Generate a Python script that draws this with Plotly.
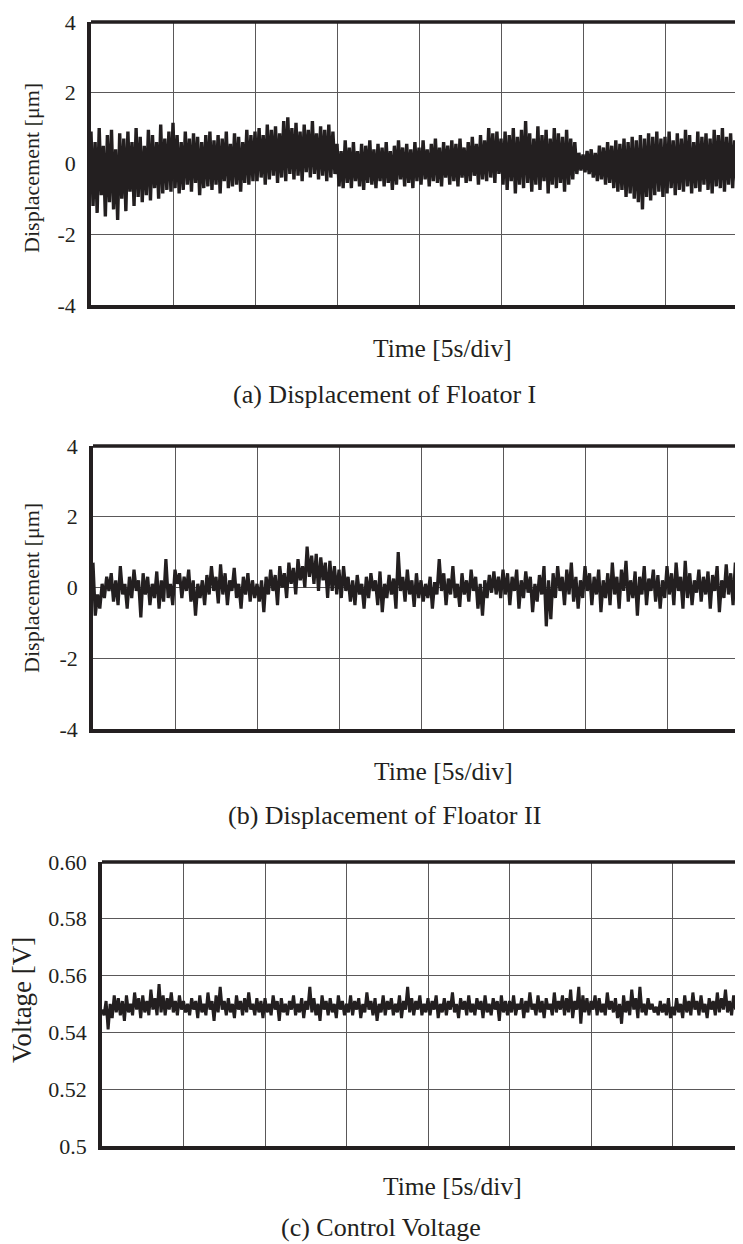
import numpy as np
import plotly.graph_objects as go

# ---------------- data ----------------
SAMPLES_PER_DIV = 40          # panel (a), (c)
SAMPLES_PER_DIV_B = 36        # panel (b)
SEC_PER_DIV = 5.0

# (a) Displacement of Floator I [um]
disp_floator1 = [
    0.9, -1.2, 0.6, -1.4, 1.0, -0.9, 0.5, -1.5, 0.8, -1.1, 0.95, -1.3, 0.4, -1.6, 0.85, -1.0, 0.7, -1.35, 0.9, -0.8,
    0.6, -1.2, 1.0, -0.95, 0.75, -1.1, 0.5, -0.9, 0.95, -1.05, 0.8, -0.7, 0.6, -1.0, 1.1, -0.85, 0.7, -0.75, 0.9, -0.8,
    1.15, -0.7, 0.8, -0.85, 0.6, -0.75, 0.9, -0.6, 0.7, -0.8, 0.85, -0.55, 0.75, -0.9, 0.6, -0.7, 0.8, -0.65, 0.9, -0.75,
    0.65, -0.6, 0.8, -0.85, 0.7, -0.5, 0.9, -0.7, 0.55, -0.65, 0.85, -0.6, 0.75, -0.8, 0.6, -0.55, 0.95, -0.6, 0.8, -0.5,
    0.9, -0.5, 1.0, -0.4, 0.8, -0.6, 1.1, -0.45, 0.95, -0.35, 1.05, -0.55, 0.85, -0.4, 1.2, -0.5, 1.3, -0.3, 1.0, -0.45,
    1.15, -0.35, 0.9, -0.5, 1.1, -0.25, 0.95, -0.4, 1.2, -0.3, 0.85, -0.45, 1.05, -0.35, 0.95, -0.5, 1.1, -0.4, 0.9, -0.3,
    0.55, -0.65, 0.35, -0.7, 0.65, -0.55, 0.45, -0.7, 0.6, -0.5, 0.35, -0.65, 0.55, -0.75, 0.5, -0.55, 0.65, -0.6, 0.4, -0.7,
    0.55, -0.5, 0.45, -0.65, 0.6, -0.55, 0.35, -0.75, 0.5, -0.6, 0.65, -0.45, 0.45, -0.65, 0.55, -0.55, 0.4, -0.7, 0.6, -0.5,
    0.45, -0.6, 0.65, -0.45, 0.4, -0.65, 0.55, -0.5, 0.7, -0.55, 0.45, -0.65, 0.6, -0.4, 0.5, -0.6, 0.65, -0.5, 0.55, -0.65,
    0.7, -0.4, 0.45, -0.55, 0.6, -0.5, 0.75, -0.35, 0.55, -0.6, 0.8, -0.45, 0.65, -0.5, 1.0, -0.4, 0.85, -0.55, 0.9, -0.3,
    0.7, -0.6, 0.9, -0.75, 0.8, -0.5, 1.0, -0.85, 0.75, -0.6, 0.95, -0.7, 1.2, -0.55, 0.85, -0.8, 0.7, -0.6, 1.05, -0.75,
    0.8, -0.5, 0.95, -0.85, 0.7, -0.6, 1.0, -0.7, 0.85, -0.55, 0.75, -0.8, 0.95, -0.6, 0.7, -0.45, 0.6, -0.3, 0.3, -0.2,
    0.25, -0.25, 0.35, -0.3, 0.4, -0.4, 0.3, -0.5, 0.5, -0.45, 0.45, -0.6, 0.6, -0.55, 0.5, -0.7, 0.65, -0.8, 0.55,
    -0.75, 0.7, -0.95, 0.6, -0.85, 0.75, -1.0, 0.65, -1.1, 0.8, -1.3, 0.7, -0.95, 0.85, -1.05, 0.75, -0.9, 0.9, -0.8, 0.7, -0.95,
    0.75, -0.85, 0.9, -0.7, 0.65, -0.9, 0.85, -0.75, 0.7, -0.8, 0.95, -0.65, 0.8, -0.85, 0.6, -0.7, 0.9, -0.8, 0.75, -0.6,
    0.85, -0.75, 0.7, -0.85, 0.95, -0.65, 0.8, -0.7, 1.0, -0.8, 0.75, -0.6, 0.85, -0.7, 0.65, -0.55, 0.8, -0.6, 0.7, -0.5,
]

# (b) Displacement of Floator II [um]
disp_floator2 = [
    0.7, -0.8, -0.2, -0.6, 0.1, -0.3, 0.3, -0.1, 0.4, -0.4, 0.2, -0.5, 0.6, -0.2, 0.1, -0.6, 0.3, -0.3, 0.5, -0.1,
    0.2, -0.85, 0.4, -0.2, 0.3, -0.5, 0.1, -0.3, 0.45, -0.6, 0.2, -0.4, 0.8, -0.3, 0.1, -0.5,
    0.5, 0.1, 0.4, -0.3, 0.3, -0.1, 0.5, -0.4, 0.2, -0.8, 0.1, -0.3, 0.2, -0.5, 0.35, -0.2, 0.6, -0.1, 0.3, -0.45,
    0.65, -0.2, 0.4, -0.5, 0.2, -0.1, 0.55, -0.3, 0.1, -0.6, 0.3, -0.2, 0.4, -0.4, 0.2, -0.3,
    0.1, -0.4, 0.2, -0.7, 0.3, -0.2, 0.5, -0.1, 0.35, -0.5, 0.6, 0.0, 0.4, -0.3, 0.7, 0.1, 0.55, -0.2, 0.8, 0.2,
    0.6, 0.0, 1.15, 0.3, 0.9, 0.1, 0.95, -0.1, 0.85, 0.2, 0.7, -0.3, 0.75, -0.1, 0.6, -0.2,
    0.5, -0.3, 0.6, -0.1, 0.3, -0.4, 0.2, -0.5, 0.35, -0.2, 0.1, -0.6, 0.3, -0.3, 0.4, -0.1, 0.2, -0.5, 0.45, -0.7,
    0.1, -0.3, 0.35, -0.2, 0.25, -0.6, 1.0, -0.1, 0.3, -0.4, 0.5, -0.2, 0.2, -0.55, 0.4, -0.3,
    0.2, -0.4, 0.1, -0.3, 0.3, -0.6, 0.15, -0.2, 0.8, -0.1, 0.4, -0.5, 0.25, -0.2, 0.6, -0.3, 0.1, -0.55, 0.4, -0.2,
    0.2, -0.4, 0.5, -0.1, 0.3, -0.6, 0.1, -0.8, 0.2, -0.3, 0.35, -0.15, 0.45, -0.2, 0.3, -0.3,
    0.5, -0.2, 0.4, -0.5, 0.3, -0.1, 0.5, -0.6, 0.2, -0.3, 0.45, -0.15, 0.3, -0.7, 0.1, -0.4, 0.35, -0.2, 0.6, -1.1,
    0.2, -0.9, 0.4, -0.3, 0.6, -0.1, 0.3, -0.5, 0.5, -0.2, 0.7, -0.4, 0.3, -0.6, 0.2, -0.3,
    0.6, -0.1, 0.4, -0.5, 0.3, -0.2, 0.5, -0.7, 0.2, -0.3, 0.4, -0.5, 0.7, -0.2, 0.3, -0.6, 0.5, -0.1, 0.75, -0.4,
    0.2, -0.3, 0.45, -0.8, 0.3, -0.2, 0.6, -0.5, 0.25, -0.1, 0.5, -0.4, 0.35, -0.6, 0.2, -0.3,
    0.6, -0.2, 0.4, -0.5, 0.7, -0.1, 0.3, -0.6, 0.75, -0.3, 0.4, -0.5, 0.2, -0.15, 0.5, -0.4, 0.3, -0.2, 0.45, -0.6,
    0.35, -0.1, 0.6, -0.7, 0.2, -0.3, 0.65, -0.2, 0.4, -0.5, 0.7, -0.1, 0.3, -0.4, 0.5, -0.2,
]

# (c) Control Voltage [V]
control_voltage = [
    0.548, 0.546, 0.551, 0.541, 0.550, 0.545, 0.553, 0.547, 0.552, 0.546, 0.551, 0.544, 0.553, 0.547, 0.550, 0.546, 0.554, 0.548, 0.552, 0.545,
    0.553, 0.547, 0.551, 0.546, 0.555, 0.548, 0.552, 0.546, 0.557, 0.547, 0.553, 0.546, 0.552, 0.548, 0.554, 0.547, 0.551, 0.546, 0.553, 0.548,
    0.551, 0.547, 0.550, 0.546, 0.552, 0.548, 0.551, 0.545, 0.553, 0.547, 0.550, 0.546, 0.554, 0.548, 0.551, 0.544, 0.553, 0.547, 0.556, 0.548,
    0.551, 0.546, 0.552, 0.547, 0.550, 0.545, 0.553, 0.548, 0.551, 0.546, 0.552, 0.547, 0.554, 0.548, 0.550, 0.546, 0.552, 0.547, 0.551, 0.545,
    0.552, 0.547, 0.550, 0.546, 0.553, 0.548, 0.551, 0.544, 0.552, 0.547, 0.550, 0.546, 0.551, 0.548, 0.553, 0.546, 0.550, 0.547, 0.552, 0.545,
    0.551, 0.548, 0.556, 0.547, 0.552, 0.546, 0.550, 0.544, 0.553, 0.548, 0.551, 0.546, 0.552, 0.547, 0.550, 0.545, 0.553, 0.548, 0.551, 0.546,
    0.550, 0.547, 0.553, 0.546, 0.551, 0.548, 0.552, 0.545, 0.550, 0.547, 0.554, 0.548, 0.551, 0.546, 0.552, 0.544, 0.550, 0.547, 0.553, 0.546,
    0.551, 0.548, 0.552, 0.546, 0.550, 0.547, 0.553, 0.545, 0.551, 0.548, 0.556, 0.547, 0.552, 0.546, 0.551, 0.548, 0.553, 0.546, 0.550, 0.547,
    0.552, 0.546, 0.551, 0.548, 0.553, 0.545, 0.550, 0.547, 0.552, 0.546, 0.551, 0.548, 0.554, 0.547, 0.550, 0.545, 0.552, 0.548, 0.551, 0.546,
    0.553, 0.547, 0.550, 0.546, 0.552, 0.548, 0.551, 0.545, 0.553, 0.547, 0.550, 0.546, 0.552, 0.548, 0.551, 0.544, 0.553, 0.547, 0.551, 0.546,
    0.551, 0.547, 0.553, 0.546, 0.550, 0.548, 0.552, 0.545, 0.551, 0.547, 0.554, 0.548, 0.550, 0.546, 0.553, 0.547, 0.551, 0.545, 0.552, 0.548,
    0.550, 0.546, 0.554, 0.547, 0.551, 0.548, 0.553, 0.546, 0.552, 0.547, 0.555, 0.545, 0.551, 0.548, 0.556, 0.543, 0.553, 0.547, 0.552, 0.546,
    0.551, 0.548, 0.553, 0.546, 0.552, 0.547, 0.550, 0.546, 0.554, 0.548, 0.551, 0.547, 0.552, 0.545, 0.550, 0.543, 0.553, 0.547, 0.551, 0.546,
    0.555, 0.548, 0.552, 0.545, 0.556, 0.547, 0.550, 0.546, 0.552, 0.548, 0.550, 0.547, 0.549, 0.546, 0.551, 0.547, 0.550, 0.546, 0.552, 0.545,
    0.549, 0.546, 0.552, 0.547, 0.550, 0.545, 0.553, 0.547, 0.551, 0.546, 0.554, 0.548, 0.551, 0.546, 0.553, 0.547, 0.550, 0.545, 0.552, 0.548,
    0.551, 0.546, 0.554, 0.547, 0.552, 0.548, 0.555, 0.547, 0.551, 0.546, 0.553, 0.548, 0.552, 0.547, 0.550, 0.546, 0.553, 0.548, 0.551, 0.549,
]

disp_ticks = [-4, -2, 0, 2, 4]
disp_ticktext = ["-4", "-2", "0", "2", "4"]
volt_ticks = [0.50, 0.52, 0.54, 0.56, 0.58, 0.60]
volt_ticktext = ["0.5", "0.52", "0.54", "0.56", "0.58", "0.60"]

x_title = "Time [5s/div]"
y_title_disp = "Displacement [\u03bcm]"
y_title_volt = "Voltage [V]"
captions = ["(a) Displacement of Floator I", "(b) Displacement of Floator II", "(c) Control Voltage"]

# sampling times (uniform sampling)
t_a = np.arange(len(disp_floator1)) * (SEC_PER_DIV / SAMPLES_PER_DIV)
t_b = np.arange(len(disp_floator2)) * (SEC_PER_DIV / SAMPLES_PER_DIV_B)
t_c = np.arange(len(control_voltage)) * (SEC_PER_DIV / SAMPLES_PER_DIV)

# ---------------- layout geometry ----------------
# Measured mapping of the photographed page: picture_x = fig_x + 8,
# picture_y = 0.98 * fig_y + 20.1.  Positions below are picture pixels.
OFF_X = 8
Y_OFF, Y_SCALE = 20.1, 0.98
W = 727
H = 1249
FONT = "Liberation Serif, Times New Roman, serif"
INK = "#231f20"
GRID = "#5a5859"

def px_x(p):
    return (p - OFF_X) / W

def px_y(p):
    return 1 - ((p - Y_OFF) / Y_SCALE) / H

panels = [
    dict(left=91, top=22, bottom=305, div=82.0),
    dict(left=93, top=446, bottom=729, div=82.0),
    dict(left=102, top=862, bottom=1146, div=81.5),
]

fig = go.Figure()
series = [(t_a, disp_floator1, 3.4), (t_b, disp_floator2, 3.2), (t_c, control_voltage, 3.0)]
for i, (t, v, lw) in enumerate(series):
    sfx = "" if i == 0 else str(i + 1)
    fig.add_trace(go.Scatter(x=t, y=v, mode="lines", line=dict(color=INK, width=lw),
                             xaxis="x" + sfx, yaxis="y" + sfx, showlegend=False, hoverinfo="skip"))

for i, p in enumerate(panels):
    sfx = "" if i == 0 else str(i + 1)
    right_px = OFF_X + W
    xr_end = (right_px - p["left"]) / p["div"] * SEC_PER_DIV
    xa = dict(domain=[px_x(p["left"]), 1.0], range=[0, xr_end], anchor="y" + sfx,
              showgrid=True, gridcolor=GRID, gridwidth=1, dtick=SEC_PER_DIV, tick0=0,
              showticklabels=False, ticks="", zeroline=False,
              showline=True, linecolor=INK, linewidth=3.5)
    if i == 2:
        ya = dict(range=[0.50, 0.60], tickvals=volt_ticks, ticktext=volt_ticktext)
    else:
        ya = dict(range=[-4, 4], tickvals=disp_ticks, ticktext=disp_ticktext)
    ya.update(domain=[px_y(p["bottom"]), px_y(p["top"])], anchor="x" + sfx,
              showgrid=True, gridcolor=GRID, gridwidth=1, zeroline=False,
              showline=True, linecolor=INK, linewidth=3.5, ticks="",
              ticklabelstandoff=7,
              tickfont=dict(family=FONT, size=22, color=INK))
    fig.update_layout(**{"xaxis" + sfx: xa, "yaxis" + sfx: ya})
    fig.add_shape(type="line", xref=("x" + sfx + " domain"), yref=("y" + sfx + " domain"),
                  x0=0, x1=1, y0=1, y1=1, line=dict(color=INK, width=3.5))

ann = []
ann.append(dict(text=y_title_disp, x=px_x(32), y=px_y(168), textangle=-90, size=22))
ann.append(dict(text=y_title_disp, x=px_x(32), y=px_y(588), textangle=-90, size=22))
ann.append(dict(text=y_title_volt, x=px_x(22), y=px_y(1000), textangle=-90, size=27))
ann.append(dict(text=x_title, x=px_x(442), y=px_y(349), textangle=0, size=25.5))
ann.append(dict(text=x_title, x=px_x(443), y=px_y(772), textangle=0, size=25.5))
ann.append(dict(text=x_title, x=px_x(452), y=px_y(1187), textangle=0, size=25.5))
ann.append(dict(text=captions[0], x=px_x(384), y=px_y(395), textangle=0, size=26))
ann.append(dict(text=captions[1], x=px_x(384), y=px_y(816), textangle=0, size=26))
ann.append(dict(text=captions[2], x=px_x(381), y=px_y(1228), textangle=0, size=26))
annotations = []
for a in ann:
    size = a.pop("size")
    a.update(xref="paper", yref="paper", showarrow=False, xanchor="center", yanchor="middle",
             font=dict(family=FONT, size=size, color=INK))
    annotations.append(a)

fig.update_layout(width=W, height=H, autosize=False, margin=dict(l=0, r=0, t=0, b=0, pad=0),
                  paper_bgcolor="white", plot_bgcolor="white", annotations=annotations)

fig.write_html("out.html")
